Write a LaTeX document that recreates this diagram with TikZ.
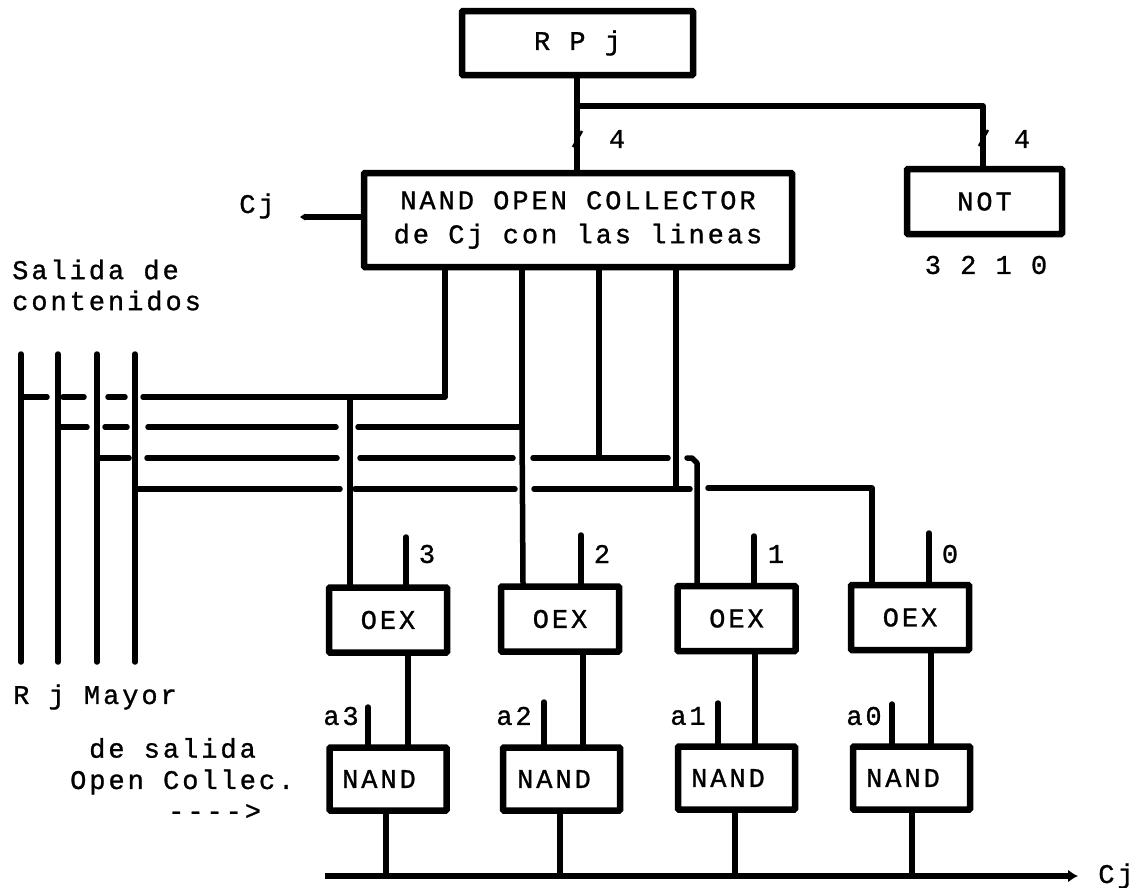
\documentclass[tikz,border=0pt]{standalone}
\usepackage{fontspec}
\setmonofont[LetterSpace=11,FakeBold=1]{Liberation Mono}
\usetikzlibrary{arrows.meta}
\tikzset{
 x=1pt,y=-1pt,
 wire/.style={line width=5.5pt,line cap=round,line join=round,black},
 blockbox/.style={draw=black,line width=6.5pt,fill=white,rounded corners=1pt,inner sep=0pt,font=\ttfamily\fontsize{27}{34}\selectfont,align=center},
 lbl/.style={inner sep=0pt,font=\ttfamily\fontsize{27}{31}\selectfont,align=left},
 boxtext/.style={inner sep=0pt,font=\ttfamily\fontsize{27}{34}\selectfont,align=center},
 oexbox/.style={blockbox,minimum width=118pt,minimum height=65pt},
 nandbox/.style={blockbox,minimum width=117pt,minimum height=63pt},
}
\begin{document}
\begin{tikzpicture}
\useasboundingbox (0,0) rectangle (1137,887);
% top blocks
\node[blockbox,minimum width=231pt,minimum height=64pt] (rpj) at (577.5,43) {R P j};
\node[blockbox,minimum width=428pt,minimum height=94pt] (nandoc) at (578,220) {NAND OPEN COLLECTOR\\de Cj con las lineas};
\node[blockbox,minimum width=155pt,minimum height=65pt] (notb) at (984.5,201.5) {NOT};
\coordinate (split) at (577,106);
\coordinate (split2) at (983,106);
\draw[wire] (rpj.south -| split) -- (split) -- (split |- nandoc.north);
\draw[wire] (split) -- (split2) -- (split2 |- notb.north);
\draw[line width=2.5pt] (573,147) -- (582,131);
\draw[line width=2.5pt] (979,146) -- (988,130);
\node[lbl] (n4a) at (617,139) {4};
\node[lbl] (n4b) at (1022,139) {4};
\node[lbl] (bits) at (986,265) {3 2 1 0};
% Cj out
\node[lbl] (cjl) at (257,206) {Cj};
\coordinate (cjp) at (300,217);
\draw[line width=5.5pt,-{Triangle[length=5pt,width=6.5pt]}] (nandoc.west |- cjp) -- (cjp);
\node[lbl,anchor=west] (sal) at (12,285) {Salida de\\contenidos};
% vertical register lines
\foreach \n/\x in {a/21,b/58,c/97,d/135}{
  \coordinate (\n t) at (\x,354);
  \coordinate (\n b) at (\x,662);
  \draw[wire] (\n t) -- (\n b);
}
% lower blocks
\node[oexbox] (oex3) at (388,620) {OEX};
\node[oexbox] (oex2) at (560,619) {OEX};
\node[oexbox] (oex1) at (736.5,618.5) {OEX};
\node[oexbox] (oex0) at (910,617.5) {OEX};
\node[nandbox] (nand3) at (388,779) {};
\node[nandbox] (nand2) at (561.5,779) {};
\node[nandbox] (nand1) at (736.5,778) {};
\node[nandbox] (nand0) at (911.5,778) {};
\node[boxtext] (nt3) at (379,779) {NAND};
\node[boxtext] (nt2) at (554,779) {NAND};
\node[boxtext] (nt1) at (728,778) {NAND};
\node[boxtext] (nt0) at (903,778) {NAND};
% bus lines from the open-collector block
\coordinate (q3) at (445,397);
\coordinate (q2) at (522,427);
\coordinate (q1) at (599,458);
\coordinate (q0) at (676,489);
\draw[wire] (nandoc.south -| q3) -- (q3) -- (143,397);
\draw[wire] (21,397) -- (47,397);
\draw[wire] (63,397) -- (84,397);
\draw[wire] (108,397) -- (125,397);
\draw[wire] (350,397) -- (oex3.north -| 350,0);
\draw[wire] (nandoc.south -| q2) -- (q2) -- (358,427);
\draw[wire] (336,427) -- (148,427);
\draw[wire] (105,427) -- (127,427);
\draw[wire] (58,427) -- (87,427);
\draw[wire] (q2) -- (oex2.north -| 523,0);
\draw[wire] (nandoc.south -| q1) -- (q1);
\draw[wire] (97,458) -- (129,458);
\draw[wire] (147,458) -- (337,458);
\draw[wire] (360,458) -- (513,458);
\draw[wire] (533,458) -- (668,458);
\draw[wire] (687,458) -- (692,458) -- (697,463) -- (oex1.north -| 697,0);
\draw[wire] (nandoc.south -| q0) -- (q0);
\draw[wire] (135,489) -- (340,489);
\draw[wire] (355,489) -- (515,489);
\draw[wire] (534,489) -- (690,489);
\draw[wire] (708,488) -- (872,488) -- (oex0.north -| 872,0);
% upper pins
\foreach \n/\p/\l/\s/\t in {oex3/406/3/427/537,oex2/581/2/602/535,oex1/754/1/776/536,oex0/929/0/950/533}{
  \draw[wire] (\p,\t) -- (\n.north -| \p,0);
  \node[lbl] (pin\l) at (\s,554) {\l};
}
% OEX to NAND
\draw[wire] (oex3.south -| 408,0) -- (nand3.north -| 408,0);
\draw[wire] (oex2.south -| 583,0) -- (nand2.north -| 583,0);
\draw[wire] (oex1.south -| 755,0) -- (nand1.north -| 755,0);
\draw[wire] (oex0.south -| 931,0) -- (nand0.north -| 931,0);
% a pins
\foreach \n/\p/\l/\s/\t in {nand3/368/a3/341/707,nand2/544/a2/514/702,nand1/718/a1/688/703,nand0/892/a0/864/704}{
  \draw[wire] (\p,\t) -- (\n.north -| \p,0);
  \node[lbl] (lab\l) at (\s,716) {\l};
}
% output bus
\coordinate (busl) at (325,876);
\coordinate (busr) at (1078,876);
\draw[line width=5.5pt,-{Latex[length=10pt,width=13pt]}] (busl) -- (busr);
\node[lbl] (cjr) at (1116,876) {Cj};
\foreach \n/\p in {nand3/386,nand2/560,nand1/735,nand0/912}{
  \draw[wire] (\n.south -| \p,0) -- (\p,876);
}
\node[lbl,anchor=west] (rjm) at (13,697) {R j Mayor};
\node[lbl,anchor=west] (des) at (89,748) {de salida};
\node[lbl,anchor=west] (opc) at (70,782) {Open Collec.};
\node[lbl,anchor=west] (arr) at (168,812) {---->};
\end{tikzpicture}
\end{document}
